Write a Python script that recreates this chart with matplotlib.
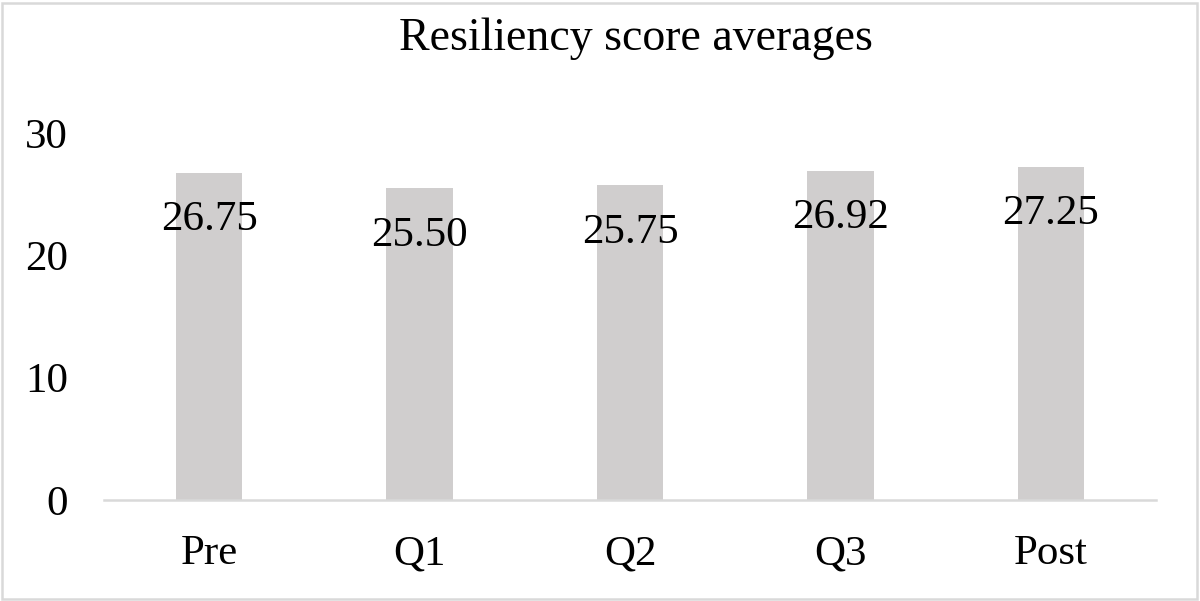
import matplotlib.pyplot as plt
from matplotlib.patches import Rectangle

categories = ["Pre", "Q1", "Q2", "Q3", "Post"]
averages = [26.75, 25.50, 25.75, 26.92, 27.25]
y_ticks = [0, 10, 20, 30]

plt.rcParams["font.family"] = ["Liberation Serif", "DejaVu Serif"]

fig = plt.figure(figsize=(12, 6.01), dpi=100)
# axes box in pixels: left 104, right 1156, bottom 500, top 133
ax = fig.add_axes([104 / 1200, 101 / 601, 1052 / 1200, 367 / 601])

x = list(range(len(categories)))
ax.bar(x, averages, width=0.315, color="#d0cece", zorder=2)

for xi, val in zip(x, averages):
    ax.annotate(f"{val:.2f}", xy=(xi, val), xytext=(0, -41.5),
                textcoords="offset points", ha="center", va="baseline",
                fontsize=31, color="black", zorder=3)

ax.set_xlim(-0.5, len(categories) - 0.5)
ax.set_ylim(0, 30)
ax.set_yticks(y_ticks)
ax.set_xticks(x)
ax.set_xticklabels(categories)
ax.tick_params(axis="both", length=0, labelsize=31)
ax.tick_params(axis="y", pad=26)
ax.tick_params(axis="x", pad=25)

for side in ["top", "right", "left"]:
    ax.spines[side].set_visible(False)
ax.spines["bottom"].set_color("#d9d9d9")
ax.spines["bottom"].set_linewidth(1.8)

fig.text(636 / 1200, 1 - 50 / 601, "Resiliency score averages", ha="center",
         va="baseline", fontsize=33)

fig.patches.append(Rectangle((2 / 1200, 2 / 601), 1195 / 1200, 596 / 601,
                             transform=fig.transFigure, fill=False,
                             edgecolor="#d9d9d9", linewidth=1.8))

fig.savefig("out.png", dpi=100, facecolor="white")
